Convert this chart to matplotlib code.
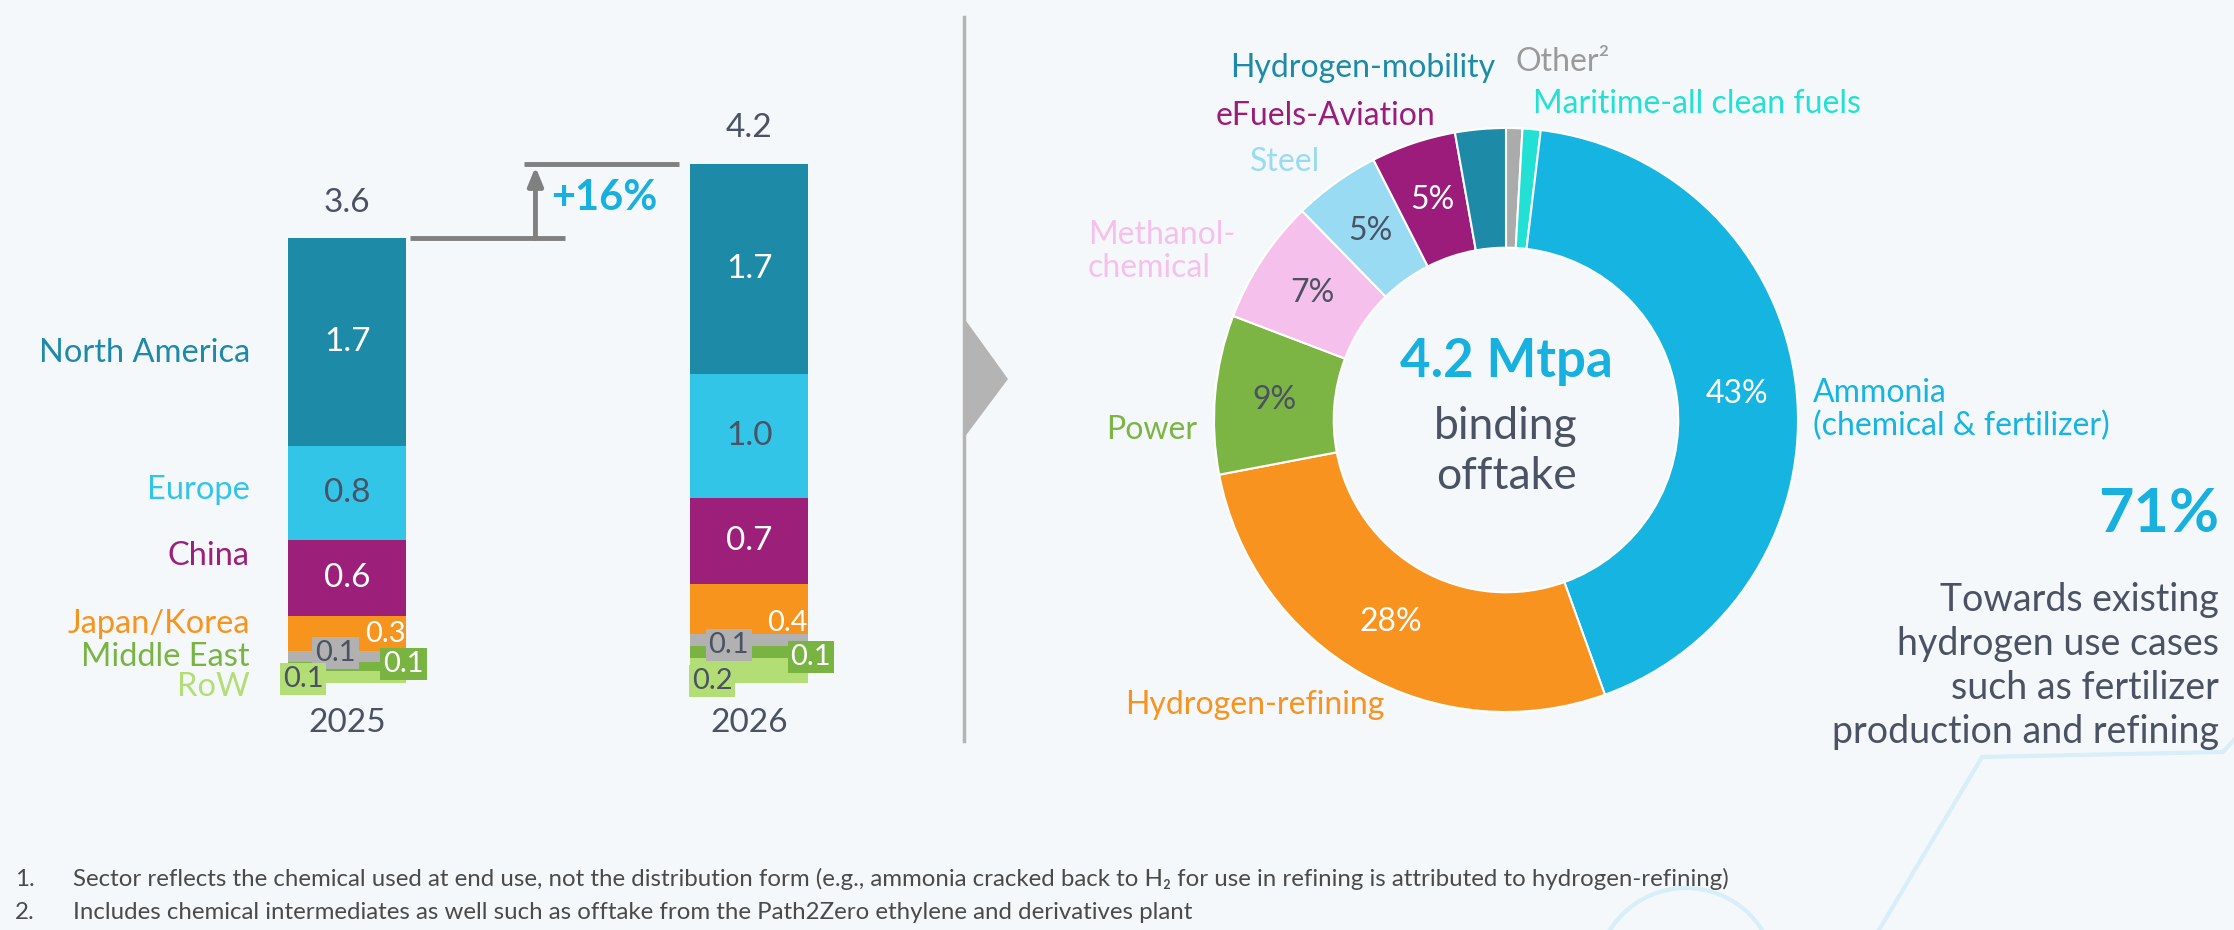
import matplotlib
matplotlib.use("Agg")
import matplotlib.pyplot as plt
import numpy as np
from matplotlib.lines import Line2D
from matplotlib.patches import Polygon, Arc

plt.rcParams['font.family'] = ['Lato', 'DejaVu Sans']

# ---- data: offtake by region (Mtpa), stacked bottom -> top
years = ['2025', '2026']
regions = ['RoW', 'Middle East', '', 'Japan/Korea', 'China', 'Europe', 'North America']
region_colors = ['#b3de76', '#79b443', '#b1b1b1', '#f7941d', '#9c1f7a', '#33c5e8', '#1d8aa8']
vals_2025 = [0.10, 0.07, 0.09, 0.28, 0.62, 0.76, 1.68]
vals_2026 = [0.20, 0.10, 0.10, 0.40, 0.70, 1.00, 1.70]
labels_2025 = ['0.1', '0.1', '0.1', '0.3', '0.6', '0.8', '1.7']
labels_2026 = ['0.2', '0.1', '0.1', '0.4', '0.7', '1.0', '1.7']
totals = [3.6, 4.2]
growth = '+16%'

# ---- data: offtake by sector (% of 4.2 Mtpa), clockwise from 12 o'clock
sectors = ['Other²', 'Maritime-all clean fuels', 'Ammonia\n(chemical & fertilizer)',
           'Hydrogen-refining', 'Power', 'Methanol-\nchemical', 'Steel',
           'eFuels-Aviation', 'Hydrogen-mobility']
sector_share = [0.9, 1.0, 42.6, 27.5, 8.8, 6.9, 4.8, 4.7, 2.8]
sector_pct = ['', '', '43%', '28%', '9%', '7%', '5%', '5%', '']
sector_colors = ['#ababab', '#22e0d3', '#15b4e1', '#f7931e', '#7db544',
                 '#f6c0ec', '#99dbf3', '#9b1c7a', '#1d8aa8']

DARK = '#4a5263'
CYAN = '#17b0df'
BG = '#f5f8fa'
W, H = 2234, 930

fig = plt.figure(figsize=(W / 100, H / 100), dpi=100, facecolor=BG)

# ================= left: stacked bars =================
px_per_unit = 123.5
ax = fig.add_axes([0, 247 / H, 960 / W, 600 / H])
ax.set_xlim(-0.864, 1.524)
ax.set_ylim(0, 600 / px_per_unit)
ax.axis('off')

x = np.arange(len(years))
bw = 0.293
stacks = [vals_2025, vals_2026]
labels = [labels_2025, labels_2026]
for i, vals in enumerate(stacks):
    bottom = 0.0
    for j, v in enumerate(vals):
        ax.bar(x[i], v, bw, bottom=bottom, color=region_colors[j], linewidth=0)
        if j >= 4:
            tc = DARK if j == 5 else 'white'
            ax.text(x[i], bottom + v / 2, labels[i][j], ha='center', va='center',
                    fontsize=24, color=tc)
        bottom += v
    ax.text(x[i], totals[i] + 0.29, f'{totals[i]:.1f}', ha='center', va='center',
            fontsize=24, color=DARK)
    ax.text(x[i], -0.32, years[i], ha='center', va='center', fontsize=24, color=DARK)

# small segment labels (dx from bar centre, y) -- layout only
small_pos = [
    {3: (0.1455, 0.40), 2: (-0.029, 0.243), 1: (0.14, 0.154), 0: (-0.11, 0.032)},
    {3: (0.1455, 0.486), 2: (-0.051, 0.308), 1: (0.153, 0.21), 0: (-0.093, 0.016)},
]
small_text = {3: 'white', 2: DARK, 1: 'white', 0: DARK}
for i in range(len(years)):
    for j, (dx, yy) in small_pos[i].items():
        if j == 3:
            ax.text(x[i] + dx, yy, labels[i][j], ha='right', va='center', fontsize=21,
                    color=small_text[j])
        else:
            ax.text(x[i] + dx, yy, labels[i][j], ha='center', va='center', fontsize=21,
                    color=small_text[j],
                    bbox=dict(boxstyle='square,pad=0.1', fc=region_colors[j], ec='none'))

# region names on the left
name_y = [-0.03, 0.21, None, 0.48, 1.03, 1.56, 2.67]
for j, name in enumerate(regions):
    if name:
        ax.text(-0.2425, name_y[j], name, ha='right', va='center', fontsize=23.5,
                color=region_colors[j])

# growth bracket
ax.plot([0.155, 0.541], [totals[0]] * 2, color='#808080', lw=3.5, solid_capstyle='butt')
ax.plot([0.44, 0.825], [totals[1]] * 2, color='#808080', lw=3.5, solid_capstyle='butt')
ax.annotate('', xy=(0.468, totals[1] - 0.02), xytext=(0.468, totals[0]),
            arrowprops=dict(arrowstyle='-|>,head_width=0.45,head_length=1.1',
                            color='#808080', lw=3.5, shrinkA=0, shrinkB=0))
ax.text(0.508, (totals[0] + totals[1]) / 2 + 0.03, growth, ha='left', va='center',
        fontsize=30, fontweight='bold', color=CYAN)

# ================= divider + chevron =================
fig.add_artist(Line2D([964 / W, 964 / W], [1 - 17 / H, 1 - 741 / H], color='#b4b4b4', lw=2.5))
fig.add_artist(Polygon([[964 / W, 1 - 318 / H], [1008 / W, 1 - 379 / H], [964 / W, 1 - 438 / H]],
                       closed=True, fc='#b4b4b4', ec='none', transform=fig.transFigure))

# ================= right: donut =================
R = 292
cx, cy = 1506, 420
side = 2.4 * R
pax = fig.add_axes([(cx - side / 2) / W, (H - cy - side / 2) / H, side / W, side / H])
wedges, _ = pax.pie(sector_share, colors=sector_colors, startangle=90, counterclock=False,
                    wedgeprops=dict(width=0.41, edgecolor='white', linewidth=1.5))
pax.set_xlim(-1.2, 1.2)
pax.set_ylim(-1.2, 1.2)
pax.axis('off')

for k, w in enumerate(wedges):
    if not sector_pct[k]:
        continue
    ang = np.deg2rad((w.theta1 + w.theta2) / 2)
    tc = DARK if k in (4, 5, 6) else 'white'
    pax.text(0.795 * np.cos(ang), 0.795 * np.sin(ang), sector_pct[k], ha='center',
             va='center', fontsize=23, color=tc)

# outside sector names (layout positions in pie units)
name_pos = [(0.034, 1.226, 'left'), (0.092, 1.082, 'left'), (1.05, 0.036, 'left'),
            (-1.303, -0.976, 'left'), (-1.058, -0.034, 'right'), (-1.432, 0.577, 'left'),
            (-0.637, 0.884, 'right'), (-0.243, 1.041, 'right'), (-0.038, 1.205, 'right')]
name_colors = ['#9a9a9a'] + sector_colors[1:]
for k, (tx, ty, ha) in enumerate(name_pos):
    pax.text(tx, ty, sectors[k], ha=ha, va='center', fontsize=23, color=name_colors[k],
             multialignment='left', linespacing=1.1)

pax.text(0, 0.202, '4.2 Mtpa', ha='center', va='center', fontsize=38,
         fontweight='bold', color=CYAN)
pax.text(0, -0.022, 'binding', ha='center', va='center', fontsize=32, color=DARK)
pax.text(0, -0.195, 'offtake', ha='center', va='center', fontsize=32, color=DARK)

# ================= callout =================
fig.text(2219 / W, 1 - 514 / H, '71%', ha='right', va='center', fontsize=44,
         fontweight='bold', color=CYAN)
fig.text(2219 / W, 1 - 666 / H,
         'Towards existing\nhydrogen use cases\nsuch as fertilizer\nproduction and refining',
         ha='right', va='center', multialignment='right', fontsize=27, color=DARK,
         linespacing=1.28)

# ================= footnotes =================
notes = ['Sector reflects the chemical used at end use, not the distribution form (e.g., ammonia '
         'cracked back to H₂ for use in refining is attributed to hydrogen-refining)',
         'Includes chemical intermediates as well such as offtake from the Path2Zero ethylene '
         'and derivatives plant']
for n, (txt, py) in enumerate(zip(notes, [879, 912])):
    fig.text(15 / W, 1 - py / H, f'{n + 1}.', ha='left', va='center', fontsize=17.3, color='#4a4a4a')
    fig.text(73 / W, 1 - py / H, txt, ha='left', va='center', fontsize=17.3, color='#4a4a4a')

# ================= decorative background lines =================
deco = '#d8eef9'
fig.add_artist(Line2D(np.array([1879, 1982, 2223, 2234]) / W,
                      1 - np.array([930, 757, 752, 740]) / H, color=deco, lw=3))
fig.add_artist(Arc((1686 / W, 1 - 977.8 / H), 2 * 89.8 / W, 2 * 89.8 / H,
                   transform=fig.transFigure, color=deco, lw=3))

fig.savefig('out.png', dpi=100, facecolor=BG)
